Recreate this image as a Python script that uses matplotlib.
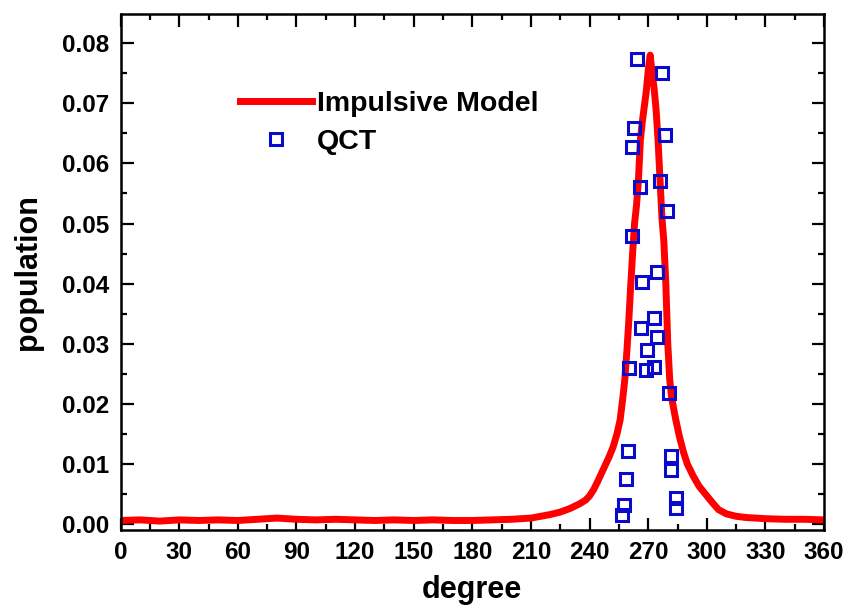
import matplotlib
matplotlib.use('Agg')
import matplotlib.pyplot as plt
from matplotlib.ticker import MultipleLocator

RED = '#ff0000'
BLUE = '#0a0acc'

plt.rcParams['font.family'] = ['Liberation Sans', 'DejaVu Sans']
plt.rcParams['font.weight'] = 'bold'

# impulsive model curve (degree, population)
model_deg = [0, 10, 20, 30, 40, 50, 60, 70, 80, 90, 100, 110, 120, 130, 140,
             150, 160, 170, 180, 190, 200, 210, 215, 220, 225, 230, 235, 238,
             240, 242, 244, 246, 248, 250, 252, 254, 255.6, 257, 258, 259,
             260, 261, 262, 263, 264, 265, 266, 267, 268, 269, 270, 271, 272,
             273, 274, 275, 276, 277, 278, 279, 280, 281, 282, 284, 286, 288,
             290, 293, 296, 300, 303, 306, 310, 315, 320, 330, 340, 350, 360]
model_pop = [0.0006, 0.0007, 0.0005, 0.0007, 0.0006, 0.0007, 0.0006, 0.0008,
             0.0010, 0.0008, 0.0007, 0.0008, 0.0007, 0.0006, 0.0007, 0.0006,
             0.0007, 0.0006, 0.0006, 0.0007, 0.0008, 0.0010, 0.0013, 0.0016,
             0.0020, 0.0026, 0.0034, 0.0040, 0.0047, 0.0057, 0.0070, 0.0084,
             0.0098, 0.0112, 0.0128, 0.0150, 0.0173, 0.0210, 0.0240, 0.0284,
             0.0335, 0.0395, 0.0450, 0.0500, 0.0530, 0.0573, 0.0640, 0.0670,
             0.0695, 0.0720, 0.0755, 0.0780, 0.0750, 0.0725, 0.0690, 0.0640,
             0.0575, 0.0510, 0.0470, 0.0400, 0.0300, 0.0240, 0.0210, 0.0175,
             0.0145, 0.0120, 0.0100, 0.0080, 0.0063, 0.0047, 0.0035, 0.0024,
             0.0017, 0.0013, 0.0011, 0.0009, 0.0008, 0.0008, 0.0007]

# QCT points
qct_deg = [264.1, 276.9, 262.7, 278.5, 261.9, 275.9, 265.7, 279.5, 261.6,
           274.7, 267.0, 273.0, 266.2, 274.4, 269.2, 260.2, 268.7, 273.0,
           280.7, 259.4, 281.6, 281.6, 258.5, 284.1, 257.6, 256.4, 284.1]
qct_pop = [0.0773, 0.0751, 0.0659, 0.0647, 0.0627, 0.0571, 0.0561, 0.0520,
           0.0480, 0.0420, 0.0402, 0.0343, 0.0326, 0.0312, 0.0290, 0.0259,
           0.0256, 0.0262, 0.0218, 0.0122, 0.0113, 0.0090, 0.0075, 0.0044,
           0.0032, 0.0015, 0.0027]

fig = plt.figure(figsize=(8.49, 6.08), dpi=100)
ax = fig.add_axes([0.142, 0.1283, 0.8287, 0.8482])

ax.plot(model_deg, model_pop, color=RED, lw=5, solid_joinstyle='round',
        label='Impulsive Model', zorder=2)
ax.plot(qct_deg, qct_pop, ls='none', marker='s', ms=9, mew=2.2,
        mfc='none', mec=BLUE, label='QCT', zorder=3)

ax.set_xlim(0, 360)
ax.set_ylim(-0.00098, 0.0848)
ax.xaxis.set_major_locator(MultipleLocator(30))
ax.xaxis.set_minor_locator(MultipleLocator(15))
ax.yaxis.set_major_locator(MultipleLocator(0.01))
ax.yaxis.set_minor_locator(MultipleLocator(0.005))
ax.yaxis.set_major_formatter(plt.FuncFormatter(lambda v, p: f'{v:.2f}'))

ax.tick_params(which='both', direction='in', top=True, right=True, width=1.6)
ax.tick_params(which='major', length=9, labelsize=17.5, pad=8)
ax.tick_params(which='minor', length=4.5)
for sp in ax.spines.values():
    sp.set_linewidth(1.8)

ax.set_xlabel('degree', fontsize=22, fontweight='bold', labelpad=8)
ax.set_ylabel('population', fontsize=22, fontweight='bold', labelpad=14)

ax.legend(loc='upper left', bbox_to_anchor=(0.1696, 0.851), frameon=False,
          fontsize=20.5, handlelength=2.55, handletextpad=0.15, labelspacing=0.42,
          borderpad=0, borderaxespad=0)

fig.savefig('out.png', dpi=100)
